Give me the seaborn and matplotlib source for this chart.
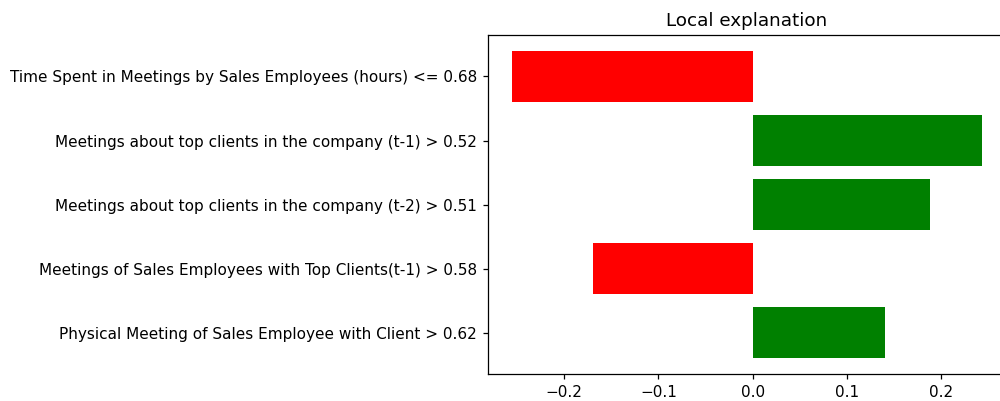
import matplotlib
matplotlib.use("Agg")
import matplotlib.pyplot as plt
import seaborn as sns
import pandas as pd

# Feature conditions and their weights in the local explanation (top to bottom)
features = [
    "Time Spent in Meetings by Sales Employees (hours) <= 0.68",
    "Meetings about top clients in the company (t-1) > 0.52",
    "Meetings about top clients in the company (t-2) > 0.51",
    "Meetings of Sales Employees with Top Clients(t-1) > 0.58",
    "Physical Meeting of Sales Employee with Client > 0.62",
]
weights = [-0.256, 0.244, 0.188, -0.170, 0.140]
x_ticks = [-0.2, -0.1, 0.0, 0.1, 0.2]

df = pd.DataFrame({"feature": features, "weight": weights})
df["sign"] = ["pos" if w > 0 else "neg" for w in weights]

sns.set_style("white")
plt.rcParams["font.family"] = ["DejaVu Sans"]
plt.rcParams["text.color"] = "black"

fig = plt.figure(figsize=(10, 4.01), dpi=100)
ax = fig.add_axes([0.488, 0.068, 0.518, 0.8436])

sns.barplot(
    data=df, x="weight", y="feature", hue="sign",
    palette={"pos": "green", "neg": "red"},
    orient="h", width=0.8, dodge=False, legend=False,
    linewidth=0, saturation=1, ax=ax,
)

ax.set_xlim(-0.281, 0.269)
ax.set_ylim(4.64, -0.64)
ax.set_xticks(x_ticks)
ax.set_xticklabels([f"{t:.1f}".replace("-", "\u2212") for t in x_ticks])
ax.set_xlabel("")
ax.set_ylabel("")
ax.set_title("Local explanation", fontsize=13.2, pad=6.6, color="black")
ax.tick_params(axis="both", labelsize=11, length=3.9, width=0.9, pad=3.9,
               direction="out", bottom=True, left=True, colors="black")
for s in ax.spines.values():
    s.set_color("black")
    s.set_linewidth(0.9)
ax.spines["right"].set_visible(False)

fig.savefig("out.png", dpi=100, facecolor="white")
